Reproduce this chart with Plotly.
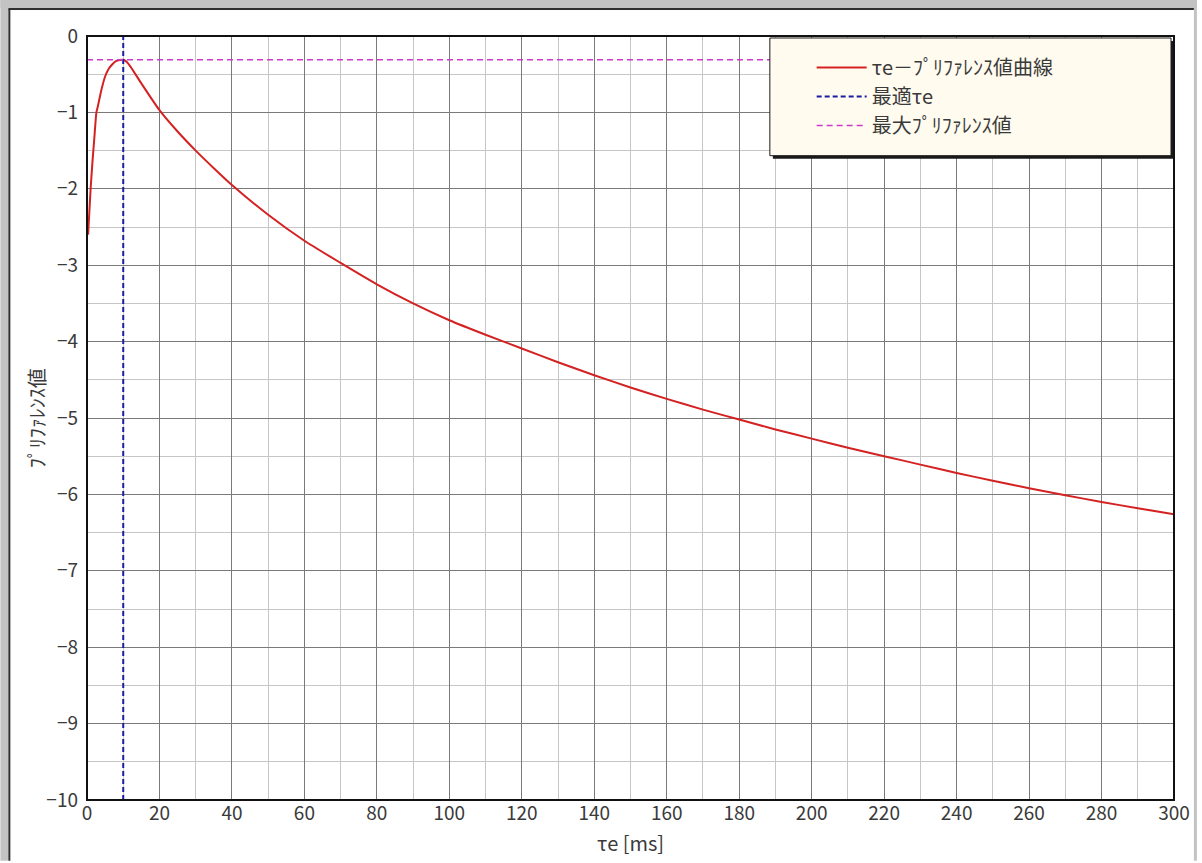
import plotly.graph_objects as go

# ---- data ----
tau_e = [0.3, 1, 1.5, 2, 2.6, 3, 4, 5, 6, 7, 8, 9, 10, 11, 12, 15, 20, 25, 30, 35, 40, 50, 60, 70, 80,
         90, 100, 110, 120, 130, 140, 150, 160, 170, 180, 190, 200, 210, 220, 230, 240, 250,
         260, 270, 280, 290, 300]
preference = [-2.6, -2.0, -1.65, -1.35, -1.0, -0.92, -0.70, -0.53, -0.43, -0.37, -0.33, -0.315, -0.31,
              -0.34, -0.40, -0.62, -0.97, -1.25, -1.5, -1.73, -1.95, -2.34, -2.68, -2.97, -3.25,
              -3.5, -3.72, -3.91, -4.09, -4.27, -4.44, -4.6, -4.75, -4.89, -5.02, -5.15, -5.27,
              -5.39, -5.5, -5.61, -5.72, -5.82, -5.92, -6.01, -6.1, -6.18, -6.26]
optimal_tau = 10
max_pref = -0.31
x_range = [0, 300]
y_range = [-10, 0]

names = ["τe－ﾌﾟﾘﾌｧﾚﾝｽ値曲線", "最適τe", "最大ﾌﾟﾘﾌｧﾚﾝｽ値"]
x_title = "τe [ms]"
y_title = "ﾌﾟﾘﾌｧﾚﾝｽ値"

W, H = 1202, 863
L, R, T, B = 87, 23, 36, 61
PW, PH = W - L - R, H - T - B

def px(x):
    return (x - L) / PW

def py(y):
    return (H - B - y) / PH

FONT = "Noto Sans CJK JP"
TXT = "#3a3a3a"

fig = go.Figure()
fig.add_trace(go.Scatter(x=tau_e, y=preference, mode="lines", name=names[0],
                         line=dict(color="#d42222", width=2, shape="spline", smoothing=0.6)))
fig.add_trace(go.Scatter(x=[optimal_tau, optimal_tau], y=y_range, mode="lines", name=names[1],
                         line=dict(color="#1c1ca8", width=2, dash="5px,3px")))
fig.add_trace(go.Scatter(x=x_range, y=[max_pref, max_pref], mode="lines", name=names[2],
                         line=dict(color="#cc3acc", width=1.5, dash="6px,4px")))

shapes = []
gray = "#c3c3c3"
dark = "#303030"
# window frame (gray bands + dark inner border)
shapes.append(dict(type="rect", xref="paper", yref="paper", x0=px(0), x1=px(W), y0=py(0), y1=py(8),
                   fillcolor=gray, line=dict(width=0), layer="below"))
shapes.append(dict(type="rect", xref="paper", yref="paper", x0=px(0), x1=px(8), y0=py(0), y1=py(H),
                   fillcolor=gray, line=dict(width=0), layer="below"))
shapes.append(dict(type="rect", xref="paper", yref="paper", x0=px(1199), x1=px(W), y0=py(0), y1=py(H),
                   fillcolor=gray, line=dict(width=0), layer="below"))
shapes.append(dict(type="line", xref="paper", yref="paper", x0=px(8), x1=px(1199), y0=py(9), y1=py(9),
                   line=dict(color=dark, width=2), layer="below"))
shapes.append(dict(type="line", xref="paper", yref="paper", x0=px(9), x1=px(9), y0=py(9), y1=py(H),
                   line=dict(color=dark, width=2), layer="below"))
# legend box with shadow
shapes.append(dict(type="rect", xref="paper", yref="paper", x0=px(776), x1=px(1179), y0=py(159), y1=py(41),
                   fillcolor="#1a1a1a", line=dict(width=0), layer="above"))
shapes.append(dict(type="rect", xref="paper", yref="paper", x0=px(773), x1=px(1176), y0=py(156), y1=py(38),
                   fillcolor="#fffbef", line=dict(color="#1a1a1a", width=1), layer="above"))
# plot border on top
shapes.append(dict(type="rect", xref="paper", yref="paper", x0=0, x1=1, y0=0, y1=1,
                   line=dict(color="#111111", width=2), layer="above"))

fig.update_layout(
    width=W, height=H,
    margin=dict(l=L, r=R, t=T, b=B, pad=0),
    paper_bgcolor="white", plot_bgcolor="white",
    font=dict(family=FONT, size=19, color=TXT),
    showlegend=True,
    legend=dict(x=px(815), y=py(48), xanchor="left", yanchor="top",
                bgcolor="rgba(0,0,0,0)", borderwidth=0,
                font=dict(family=FONT, size=20, color=TXT),
                itemwidth=50, tracegroupgap=0),
    shapes=shapes,
    annotations=[dict(text=y_title, xref="paper", yref="paper", x=px(36), y=0.5,
                      xanchor="center", yanchor="middle", textangle=-90, showarrow=False,
                      font=dict(family=FONT, size=20, color=TXT))],
)
fig.update_xaxes(range=x_range, tick0=0, dtick=20, showgrid=True, gridcolor="#7a7a7a", gridwidth=1,
                 minor=dict(dtick=10, showgrid=True, gridcolor="#c6c6c6", gridwidth=1),
                 zeroline=False, showline=False, ticks="",
                 tickfont=dict(family=FONT, size=19, color=TXT),
                 title=dict(text=x_title, font=dict(family=FONT, size=20, color=TXT), standoff=12))
fig.update_yaxes(range=y_range, tick0=0, dtick=1, showgrid=True, gridcolor="#7a7a7a", gridwidth=1,
                 minor=dict(dtick=0.5, showgrid=True, gridcolor="#c6c6c6", gridwidth=1),
                 zeroline=False, showline=False, ticks="", ticklabelstandoff=8,
                 tickfont=dict(family=FONT, size=19, color=TXT))

fig.write_html("out.html")
